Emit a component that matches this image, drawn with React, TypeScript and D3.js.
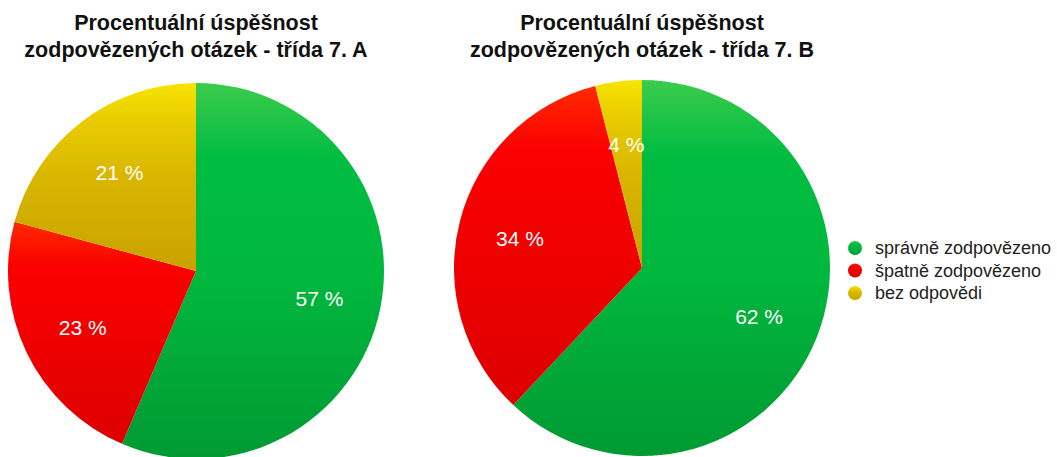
import * as d3 from "d3"

const categories = ["správně zodpovězeno", "špatně zodpovězeno", "bez odpovědi"]
const valuesA = [57, 23, 21]
const valuesB = [62, 34, 4]
const titleLines = ["Procentuální úspěšnost", "zodpovězených otázek - třída 7. "]
const classes = ["A", "B"]

const gradients = [
  { id: "g-green", stops: ["#3ccb4c", "#00bd41", "#00b83e", "#009a33"] },
  { id: "g-red", stops: ["#ff2a00", "#fb0000", "#f10000", "#dc0000"] },
  { id: "g-yellow", stops: ["#f8e300", "#e8cc00", "#d8b600", "#c9a200"] },
]

const WIDTH = 1057
const HEIGHT = 457
const R = 188
const FONT = "'Liberation Sans', Arial, Helvetica, sans-serif"

function Pie({ values, cx, cy, label }: { values: number[]; cx: number; cy: number; label: string }) {
  const pie = d3.pie<number>().value((d) => d).sort(null)
  const arcs = pie(values)
  const slice = d3.arc<d3.PieArcDatum<number>>().innerRadius(0).outerRadius(R)
  const lab = d3.arc<d3.PieArcDatum<number>>().innerRadius(R * 0.67).outerRadius(R * 0.67)
  return (
    <g>
      <text x={cx} textAnchor="middle" fontFamily={FONT} fontWeight={700} fontSize={21.5} fill="#111">
        <tspan x={cx} y={30}>{titleLines[0]}</tspan>
        <tspan x={cx} y={57}>{titleLines[1] + label}</tspan>
      </text>
      <g transform={`translate(${cx},${cy})`}>
        {arcs.map((a, i) => (
          <path key={i} d={slice(a) ?? ""} fill={`url(#${gradients[i].id})`} />
        ))}
        {arcs.map((a, i) => {
          const [x, y] = lab.centroid(a)
          return (
            <text key={i} x={x} y={y + 2} dy="0.35em" textAnchor="middle" fontFamily={FONT} fontSize={21} fill="#fff">
              {a.data} %
            </text>
          )
        })}
      </g>
    </g>
  )
}

export default function App() {
  return (
    <svg width={WIDTH} height={HEIGHT} style={{ position: "absolute", left: 0, top: 0, background: "#fff" }}>
      <defs>
        {gradients.map((g) => (
          <linearGradient key={g.id} id={g.id} x1="0" y1="0" x2="0" y2="1">
            {g.stops.map((c, i) => (
              <stop key={i} offset={i === 0 ? 0 : i === 1 ? 0.2 : i === 2 ? 0.5 : 1} stopColor={c} />
            ))}
          </linearGradient>
        ))}
      </defs>
      <Pie values={valuesA} cx={196} cy={271} label={classes[0]} />
      <Pie values={valuesB} cx={642} cy={268} label={classes[1]} />
      <g fontFamily={FONT} fontSize={18} fill="#222">
        {categories.map((c, i) => (
          <g key={c} transform={`translate(855,${248 + i * 22.5})`}>
            <circle r={7} fill={`url(#${gradients[i].id})`} />
            <text x={20} dy="0.35em">{c}</text>
          </g>
        ))}
      </g>
    </svg>
  )
}
